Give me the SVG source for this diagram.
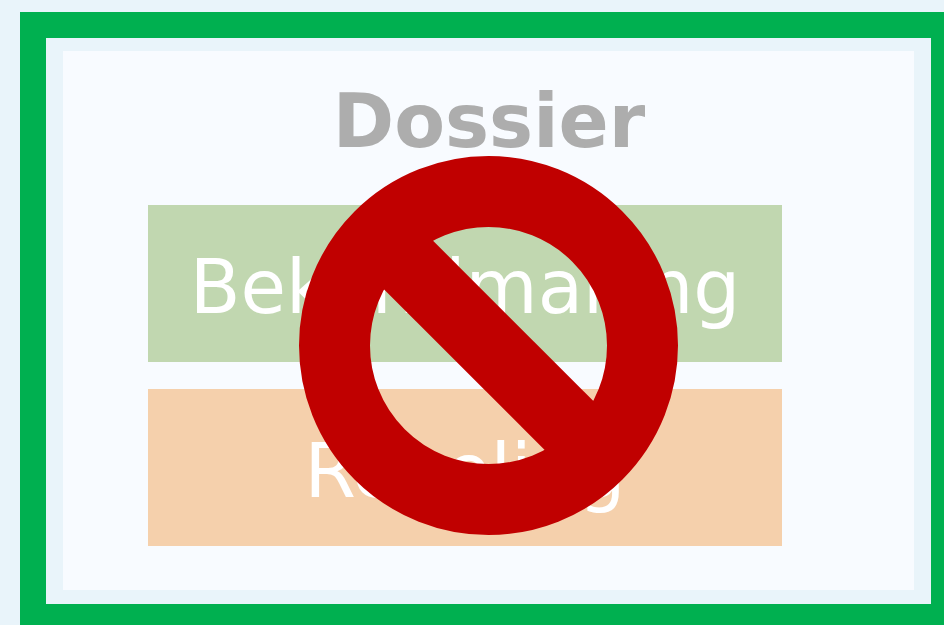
<svg xmlns="http://www.w3.org/2000/svg" width="944" height="625" viewBox="0 0 944 625">
<style>
.lbl{font-family:"DejaVu Sans",Verdana,sans-serif;fill:#fff;font-size:74px;text-anchor:middle}
</style>
<rect width="944" height="625" fill="#e9f4fa"/>
<rect x="33" y="25" width="911" height="592" fill="#e9f4fa" stroke="#00b050" stroke-width="26"/>
<rect x="63" y="51" width="851" height="539" fill="#f8fbff"/>
<text x="489" y="147" font-family="'DejaVu Sans',Verdana,sans-serif" font-weight="700" font-size="74" fill="#adadad" text-anchor="middle">Dossier</text>
<g id="bekendmaking"><rect x="148" y="205" width="634" height="157" fill="#c1d7b0"/><text class="lbl" x="465" y="313">Bekendmaking</text></g>
<g id="regeling"><rect x="148" y="389" width="634" height="157" fill="#f5d0ac"/><text class="lbl" x="465" y="497">Regeling</text></g>
<g id="verbod" fill="none" stroke="#c00000"><circle cx="488.500" cy="345.500" r="154" stroke-width="71"/><line x1="380" y1="236.500" x2="597" y2="453.500" stroke-width="69"/></g>
</svg>
